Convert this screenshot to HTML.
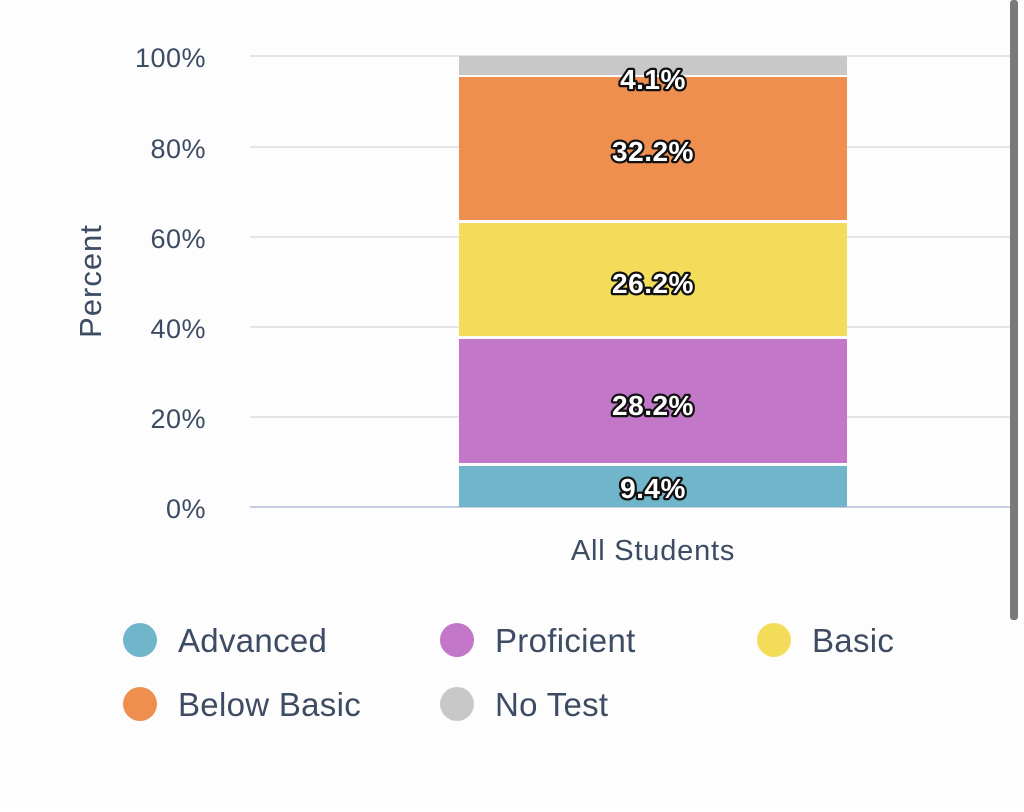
<!DOCTYPE html>
<html><head><style>
body{margin:0;background:#fff;width:1024px;height:807px;overflow:hidden;font-family:"Liberation Sans",sans-serif}
</style></head><body>
<svg width="1024" height="807" xmlns="http://www.w3.org/2000/svg" font-family="Liberation Sans, sans-serif">
<rect width="1024" height="807" fill="#fdfdfd"/>
<g stroke="#e4e4ea" stroke-width="2">
<line x1="250" y1="56" x2="1010" y2="56"/>
<line x1="250" y1="147" x2="1010" y2="147"/>
<line x1="250" y1="237" x2="1010" y2="237"/>
<line x1="250" y1="327" x2="1010" y2="327"/>
<line x1="250" y1="417" x2="1010" y2="417"/>
</g>
<line x1="250" y1="507" x2="1010" y2="507" stroke="#c8cce0" stroke-width="2"/>
<g fill="#3d4b63" font-size="27" text-anchor="end" letter-spacing="0.5">
<text x="206" y="67">100%</text>
<text x="206" y="158">80%</text>
<text x="206" y="248">60%</text>
<text x="206" y="338">40%</text>
<text x="206" y="428">20%</text>
<text x="206" y="518">0%</text>
</g>
<text transform="translate(101,281) rotate(-90)" fill="#3d4b63" font-size="31" text-anchor="middle" letter-spacing="1">Percent</text>
<rect x="459" y="56" width="388" height="19" fill="#c8c8c8"/>
<rect x="459" y="77" width="388" height="143" fill="#ee8f4f"/>
<rect x="459" y="223" width="388" height="113" fill="#f3dc5a"/>
<rect x="459" y="339" width="388" height="124" fill="#c277c8"/>
<rect x="459" y="466" width="388" height="41" fill="#70b5c9"/>
<g font-size="28" font-weight="bold" text-anchor="middle" fill="#fff" stroke="#111" stroke-width="4.5" paint-order="stroke" stroke-linejoin="round" letter-spacing="0.5">
<text x="653" y="89">4.1%</text>
<text x="653" y="161">32.2%</text>
<text x="653" y="293">26.2%</text>
<text x="653" y="415">28.2%</text>
<text x="653" y="498">9.4%</text>
</g>
<text x="653" y="560" fill="#3d4b63" font-size="29" text-anchor="middle" letter-spacing="0.8">All Students</text>
<rect x="1010" y="0" width="8" height="620" rx="3" fill="#7a7a7a"/>
<g font-size="33" fill="#3d4b63" letter-spacing="0.3">
<circle cx="140" cy="640" r="17" fill="#70b5c9"/><text x="178" y="652">Advanced</text>
<circle cx="457" cy="640" r="17" fill="#c277c8"/><text x="495" y="652">Proficient</text>
<circle cx="774" cy="640" r="17" fill="#f3dc5a"/><text x="812" y="652">Basic</text>
<circle cx="140" cy="704" r="17" fill="#ee8f4f"/><text x="178" y="716">Below Basic</text>
<circle cx="457" cy="704" r="17" fill="#c8c8c8"/><text x="495" y="716">No Test</text>
</g>
</svg>
</body></html>
